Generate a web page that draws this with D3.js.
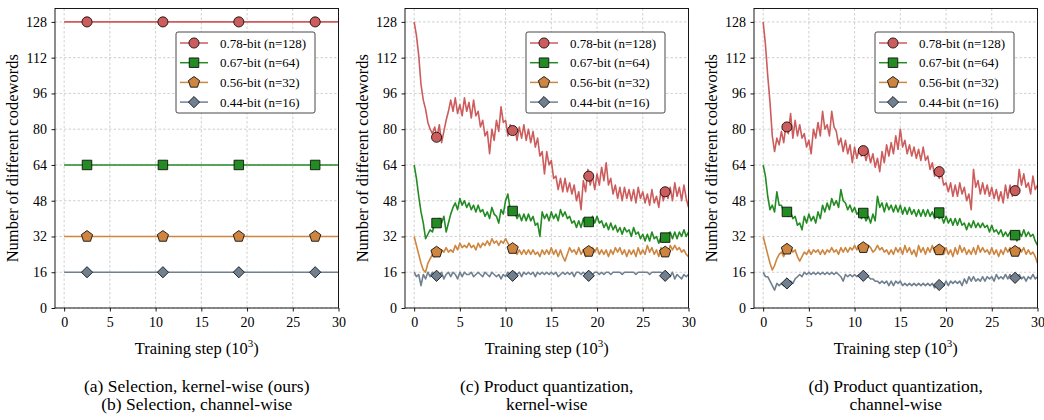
<!DOCTYPE html>
<html lang="en">
<head>
<meta charset="UTF-8">
<title>Number of different codewords during training</title>
<script src="https://cdn.jsdelivr.net/npm/d3@7"></script>
<style>
  body { margin: 0; background: #fff; }
  svg { display: block; }
</style>
</head>
<body>
<svg id="chart" width="1044" height="420"></svg>
<script>
const seriesNames = ["0.78-bit (n=128)", "0.67-bit (n=64)", "0.56-bit (n=32)", "0.44-bit (n=16)"];
const seriesColors = ["#cd5c5c", "#228b22", "#cd853f", "#708090"];
const markerShapes = ["circle", "square", "pentagon", "diamond"];
const xTicks = [0, 5, 10, 15, 20, 25, 30];
const yTicks = [0, 16, 32, 48, 64, 80, 96, 112, 128];
const captions = [
  ["(a) Selection, kernel-wise (ours)", "(b) Selection, channel-wise"],
  ["(c) Product quantization,", "kernel-wise"],
  ["(d) Product quantization,", "channel-wise"]
];

// (a)/(b) selection: every codeword stays in use
const selSteps = [0, 30];
const selRed = [128, 128];
const selGreen = [64, 64];
const selOrange = [32, 32];
const selGray = [16, 16];
const selMarkX = [2.5, 10.8, 19.1, 27.45];
const selMarks = [[128, 128, 128, 128], [64, 64, 64, 64], [32, 32, 32, 32], [16, 16, 16, 16]];

// (c)/(d) product quantization, sampled every 250 steps
const pqSteps = d3.range(0, 30.001, 0.25);

const pqKernelRed = [
  128, 122, 113, 100,  93, 89, 83, 80,  78, 81, 76, 82,  74, 79, 84, 88,
  93, 88, 94, 87,  91, 86, 94, 88,  92, 85, 93, 86,  88, 81, 84, 77,
  79, 69, 80, 75,  84, 79, 90, 83,  84, 77, 82, 79,  81, 75, 81, 76,
  82, 75, 80, 74,  79, 72, 76, 68,  70, 60, 70, 64,  66, 58, 59, 53,
  58, 52, 58, 52,  56, 51, 55, 48,  52, 44, 57, 52,  62, 55, 59, 53,
  60, 55, 63, 57,  65, 55, 58, 51,  55, 49, 54, 48,  54, 49, 53, 48,
  53, 47, 54, 49,  52, 47, 51, 46,  53, 47, 50, 45,  53, 48, 53, 49,
  54, 48, 56, 50,  54, 48, 55, 49,  45
];
const pqKernelGreen = [
  64, 58, 50, 43,  38, 31, 33, 35,  34, 38, 37, 40,  38, 41, 34, 38,
  42, 45, 47, 44,  49, 46, 48, 45,  47, 44, 46, 43,  46, 43, 44, 41,
  43, 40, 45, 42,  41, 38, 44, 42,  48, 51, 44, 42,  43, 40, 42, 39,
  42, 39, 42, 39,  41, 37, 38, 32,  43, 40, 42, 39,  43, 40, 42, 39,
  44, 41, 43, 40,  41, 38, 39, 36,  39, 36, 40, 37,  39, 37, 41, 38,
  41, 38, 39, 36,  38, 35, 38, 35,  37, 34, 36, 33,  36, 34, 35, 32,
  36, 33, 34, 31,  33, 30, 33, 30,  34, 31, 32, 29,  32, 30, 31, 33,
  34, 31, 34, 31,  34, 32, 35, 32,  34
];
const pqKernelOrange = [
  32, 28, 24, 20,  17, 16, 20, 22,  24, 23, 25, 24,  26, 25, 27, 25,
  26, 25, 28, 26,  29, 27, 28, 27,  29, 27, 28, 26,  29, 27, 29, 28,
  30, 28, 31, 29,  30, 28, 30, 29,  31, 29, 27, 26,  26, 24, 26, 24,
  26, 24, 26, 24,  26, 24, 25, 23,  26, 24, 26, 24,  27, 24, 26, 23,
  26, 23, 21, 24,  27, 25, 26, 24,  27, 24, 26, 23,  26, 24, 27, 25,
  27, 24, 26, 24,  26, 23, 26, 24,  27, 25, 27, 24,  26, 23, 26, 24,
  26, 23, 27, 24,  26, 24, 28, 25,  27, 24, 26, 23,  27, 25, 26, 24,
  28, 26, 28, 26,  27, 25, 26, 24,  23
];
const pqKernelGray = [
  16, 14, 15, 10,  15, 13, 16, 14,  16, 14, 15, 15,  16, 13, 15, 16,
  14, 16, 15, 13,  16, 14, 16, 15,  15, 16, 14, 15,  16, 15, 14, 16,
  15, 14, 16, 15,  14, 15, 13, 15,  14, 16, 15, 14,  16, 15, 16, 14,
  16, 15, 16, 15,  16, 14, 16, 15,  16, 15, 16, 15,  16, 15, 16, 14,
  15, 16, 15, 16,  15, 16, 14, 16,  16, 15, 16, 15,  15, 16, 15, 16,
  16, 15, 16, 15,  16, 16, 15, 16,  16, 16, 16, 15,  16, 16, 16, 16,
  16, 15, 16, 16,  16, 16, 16, 15,  16, 16, 16, 16,  16, 15, 16, 15,
  14, 16, 13, 15,  14, 13, 15, 14,  15
];
const pqKernelMarkX = [2.45, 10.77, 19.09, 27.45];
const pqKernelMarks = [[76.4, 79.4, 59, 52], [38, 43.4, 38.5, 31.5], [25, 26.6, 25.3, 25], [14.4, 14.4, 14.4, 14.4]];

const pqChannelRed = [
  128, 118, 104, 92,  77, 70, 76, 73,  79, 74, 82, 78,  87, 76, 84, 77,
  82, 76, 78, 72,  75, 69, 80, 76,  83, 77, 88, 80,  82, 77, 88, 81,
  79, 73, 76, 70,  75, 69, 73, 65,  72, 67, 71, 68,  71, 66, 70, 65,
  69, 63, 67, 61,  70, 65, 73, 68,  74, 69, 77, 71,  80, 72, 75, 69,
  73, 68, 72, 67,  71, 66, 72, 66,  68, 62, 65, 59,  62, 58, 60, 55,
  56, 52, 56, 50,  55, 50, 56, 51,  54, 48, 51, 44,  62, 54, 57, 51,
  56, 51, 55, 50,  54, 49, 53, 48,  52, 47, 55, 49,  55, 50, 54, 51,
  62, 55, 60, 54,  56, 51, 59, 53,  55
];
const pqChannelGreen = [
  64, 59, 50, 44,  46, 43, 52, 46,  46, 43, 44, 41,  43, 40, 41, 37,
  38, 35, 41, 38,  42, 39, 41, 38,  43, 40, 46, 43,  47, 44, 49, 46,
  48, 45, 53, 48,  47, 44, 46, 43,  45, 42, 43, 40,  42, 39, 41, 38,
  42, 39, 50, 45,  47, 43, 47, 44,  46, 43, 46, 43,  46, 42, 45, 42,
  45, 42, 44, 41,  44, 41, 44, 41,  44, 41, 43, 40,  42, 40, 41, 38,
  41, 38, 40, 37,  40, 37, 40, 37,  38, 35, 38, 36,  39, 36, 38, 36,
  38, 36, 37, 34,  37, 34, 35, 33,  35, 32, 34, 32,  34, 31, 33, 30,
  34, 32, 35, 32,  34, 32, 33, 30,  28
];
const pqChannelOrange = [
  32, 28, 24, 20,  17, 19, 22, 24,  25, 23, 26, 25,  27, 25, 26, 23,
  21, 23, 25, 24,  26, 24, 26, 25,  26, 24, 26, 24,  26, 25, 27, 25,
  26, 24, 27, 25,  27, 25, 27, 26,  28, 26, 28, 27,  28, 26, 28, 27,
  25, 26, 28, 26,  27, 25, 26, 24,  26, 24, 27, 25,  27, 24, 28, 25,
  27, 24, 26, 23,  28, 25, 27, 24,  27, 25, 28, 25,  27, 24, 26, 24,
  27, 24, 26, 23,  27, 24, 28, 25,  27, 24, 26, 24,  27, 24, 28, 25,
  27, 25, 26, 24,  27, 24, 26, 23,  26, 24, 27, 25,  27, 24, 26, 24,
  27, 25, 27, 24,  26, 24, 25, 23,  20
];
const pqChannelGray = [
  16, 14, 14, 12,  10, 8, 11, 10,  11, 10, 12, 11,  12, 11, 13, 14,
  15, 14, 16, 15,  16, 15, 16, 15,  16, 15, 16, 15,  16, 15, 16, 15,
  16, 15, 14, 12,  15, 14, 15, 14,  15, 14, 15, 14,  15, 14, 14, 13,
  13, 12, 12, 11,  12, 11, 12, 10,  12, 10, 12, 11,  12, 10, 11, 10,
  11, 10, 11, 10,  11, 10, 11, 10,  11, 10, 11, 9,  11, 10, 11, 10,
  12, 10, 12, 11,  12, 11, 12, 10,  13, 11, 14, 12,  14, 12, 13, 12,
  14, 12, 14, 13,  14, 12, 15, 13,  14, 13, 15, 13,  15, 13, 14, 13,
  15, 13, 14, 12,  14, 13, 15, 13,  14
];
const pqChannelMarkX = [2.6, 10.95, 19.25, 27.55];
const pqChannelMarks = [[81, 70.4, 61, 52.5], [43, 42.5, 42.7, 32.6], [26.3, 27, 26, 25.3], [11, 14.4, 10.3, 13.5]];

const panels = [
  { steps: selSteps, series: [selRed, selGreen, selOrange, selGray], markX: selMarkX, marks: selMarks },
  { steps: pqSteps, series: [pqKernelRed, pqKernelGreen, pqKernelOrange, pqKernelGray], markX: pqKernelMarkX, marks: pqKernelMarks },
  { steps: pqSteps, series: [pqChannelRed, pqChannelGreen, pqChannelOrange, pqChannelGray], markX: pqChannelMarkX, marks: pqChannelMarks }
];

const svg = d3.select("#chart");
const serif = '"Liberation Serif", "Times New Roman", serif';
const panelLeft = [55, 405, 754];
const plotW = 283.5, plotTop = 8.5, plotBottom = 308;

function polygon(n, r) {
  const pts = d3.range(n).map(k => {
    const a = -Math.PI / 2 + 2 * Math.PI * k / n;
    return [r * Math.cos(a), r * Math.sin(a)];
  });
  return "M" + pts.map(p => p.join(",")).join("L") + "Z";
}

function markerPath(shape) {
  if (shape === "circle") return d3.symbol(d3.symbolCircle, 80)();
  if (shape === "square") return "M-4.75,-4.75h9.5v9.5h-9.5Z";
  if (shape === "pentagon") return polygon(5, 5.9);
  return polygon(4, 5.6);
}

panels.forEach((p, pi) => {
  const left = panelLeft[pi];
  const x = d3.scaleLinear().domain([-1, 30]).range([left, left + plotW]);
  const y = d3.scaleLinear().domain([0, 134]).range([plotBottom, plotTop]);
  const g = svg.append("g");

  // grid
  g.append("g").selectAll("line").data(xTicks).join("line")
    .attr("x1", d => x(d)).attr("x2", d => x(d))
    .attr("y1", plotTop).attr("y2", plotBottom);
  g.append("g").selectAll("line").data(yTicks).join("line")
    .attr("x1", left).attr("x2", left + plotW)
    .attr("y1", d => y(d)).attr("y2", d => y(d));
  g.selectAll("line")
    .attr("stroke", "#c4c4c4")
    .attr("stroke-width", 0.8)
    .attr("stroke-dasharray", "2.5,2");

  svg.append("clipPath").attr("id", "clip" + pi)
    .append("rect")
    .attr("x", left).attr("y", plotTop)
    .attr("width", plotW).attr("height", plotBottom - plotTop);

  const line = d3.line().x(d => x(d[0])).y(d => y(d[1]));

  p.series.forEach((vals, si) => {
    const pts = p.steps.map((s, i) => [s, vals[i]]);
    g.append("path")
      .datum(pts)
      .attr("clip-path", `url(#clip${pi})`)
      .attr("fill", "none")
      .attr("stroke", seriesColors[si])
      .attr("stroke-width", 1.6)
      .attr("stroke-linejoin", "round")
      .attr("d", line);

    g.append("g").selectAll("path")
      .data(p.markX.map((m, k) => [m, p.marks[si][k]]))
      .join("path")
      .attr("transform", d => `translate(${x(d[0])},${y(d[1])})`)
      .attr("d", markerPath(markerShapes[si]))
      .attr("fill", seriesColors[si])
      .attr("stroke", "#111")
      .attr("stroke-width", 0.9);
  });

  // frame
  g.append("rect")
    .attr("x", left).attr("y", plotTop)
    .attr("width", plotW).attr("height", plotBottom - plotTop)
    .attr("fill", "none").attr("stroke", "#000").attr("stroke-width", 0.9);

  // axes
  const xAxis = g.append("g")
    .attr("transform", `translate(0,${plotBottom})`)
    .call(d3.axisBottom(x).tickValues(xTicks).tickSize(3.5).tickPadding(6));
  const yAxis = g.append("g")
    .attr("transform", `translate(${left},0)`)
    .call(d3.axisLeft(y).tickValues(yTicks).tickSize(3.5).tickPadding(4.5));
  [xAxis, yAxis].forEach(a => {
    a.attr("font-size", 14);
    a.select(".domain").remove();
    a.selectAll(".tick line").attr("stroke", "#000").attr("stroke-width", 0.9);
    a.selectAll(".tick text").attr("fill", "#000");
  });

  // axis titles
  const xTitle = g.append("text")
    .attr("x", left + plotW / 2).attr("y", 353.5)
    .attr("text-anchor", "middle")
    .attr("font-size", 16.5);
  xTitle.append("tspan").text("Training step (10");
  xTitle.append("tspan").attr("font-size", 11).attr("dy", -7).text("3");
  xTitle.append("tspan").attr("dy", 7).text(")");

  g.append("text")
    .attr("transform", `translate(${left - 37},${(plotTop + plotBottom) / 2}) rotate(-90)`)
    .attr("text-anchor", "middle")
    .attr("font-size", 16.5)
    .text("Number of different codewords");

  // caption
  captions[pi].forEach((c, ci) => {
    g.append("text")
      .attr("x", left + plotW / 2).attr("y", 392 + ci * 18)
      .attr("text-anchor", "middle")
      .attr("font-size", 17.5)
      .text(c);
  });

  // legend
  const lx = left + 121, ly = 32;
  const legend = g.append("g").attr("transform", `translate(${lx},${ly})`);
  legend.append("rect")
    .attr("width", 139).attr("height", 81).attr("rx", 2)
    .attr("fill", "#fff").attr("stroke", "#333").attr("stroke-width", 0.9);
  seriesNames.forEach((name, si) => {
    const ry = 11 + si * 19.7;
    legend.append("line")
      .attr("x1", 4).attr("x2", 32).attr("y1", ry).attr("y2", ry)
      .attr("stroke", seriesColors[si]).attr("stroke-width", 1.5);
    legend.append("path")
      .attr("transform", `translate(18,${ry})`)
      .attr("d", markerPath(markerShapes[si]))
      .attr("fill", seriesColors[si])
      .attr("stroke", "#111").attr("stroke-width", 0.9);
    legend.append("text")
      .attr("x", 44).attr("y", ry + 4.5)
      .attr("font-size", 13)
      .text(name);
  });
});

// serif type everywhere (inline style so it wins over the axis defaults)
svg.selectAll("text").style("font-family", serif);
</script>
</body>
</html>
